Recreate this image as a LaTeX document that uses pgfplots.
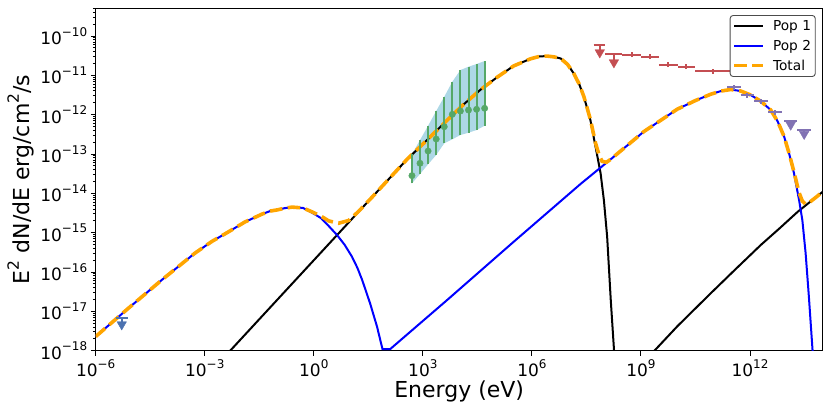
\documentclass[border=0pt]{standalone}
\usepackage{pgfplots}
\pgfplotsset{compat=1.18}
\usepackage{fontspec}
\setmainfont{DejaVu Sans}
\definecolor{sbgreen}{HTML}{55A868}
\definecolor{sbred}{HTML}{C44E52}
\definecolor{sbpurple}{HTML}{8172B3}
\definecolor{sbblue}{HTML}{4C72B0}
\definecolor{bandblue}{HTML}{ADD8E6}
\definecolor{mplorange}{HTML}{FFA500}
\newcommand{\tl}[1]{10\raisebox{0.5em}{\fontsize{12}{12}\selectfont #1}}
\newcommand{\sq}{\raisebox{0.5em}{\fontsize{15.5}{15.5}\selectfont 2}}
\begin{document}
\begin{tikzpicture}
\begin{axis}[
  width=727pt, height=342.4pt, scale only axis,
  xmode=log, ymode=log,
  xmin=1e-6, xmax=1e14, ymin=1e-18, ymax=5.06e-10,
  xtick={1e-6,1e-3,1,1e3,1e6,1e9,1e12},
  xticklabels={\tl{−6},\tl{−3},\tl{0},\tl{3},\tl{6},\tl{9},\tl{12}},
  ytick={1e-18,1e-17,1e-16,1e-15,1e-14,1e-13,1e-12,1e-11,1e-10},
  yticklabels={\tl{−18},\tl{−17},\tl{−16},\tl{−15},\tl{−14},\tl{−13},\tl{−12},\tl{−11},\tl{−10}},
  minor ytick={2e-18,3e-18,4e-18,5e-18,6e-18,7e-18,8e-18,9e-18,
    2e-17,3e-17,4e-17,5e-17,6e-17,7e-17,8e-17,9e-17,
    2e-16,3e-16,4e-16,5e-16,6e-16,7e-16,8e-16,9e-16,
    2e-15,3e-15,4e-15,5e-15,6e-15,7e-15,8e-15,9e-15,
    2e-14,3e-14,4e-14,5e-14,6e-14,7e-14,8e-14,9e-14,
    2e-13,3e-13,4e-13,5e-13,6e-13,7e-13,8e-13,9e-13,
    2e-12,3e-12,4e-12,5e-12,6e-12,7e-12,8e-12,9e-12,
    2e-11,3e-11,4e-11,5e-11,6e-11,7e-11,8e-11,9e-11,
    2e-10,3e-10,4e-10,5e-10},
  xminorticks=false,
  tick align=outside, tick pos=left,
  major tick length=4.9pt, minor tick length=2.8pt,
  every tick/.style={black, line width=1pt},
  axis line style={line width=1.1pt},
  tick label style={font=\fontsize{17}{20}\selectfont},
  label style={font=\fontsize{22}{26}\selectfont},
  xlabel={Energy (eV)},
  ylabel={E\sq\ dN/dE erg/cm\sq/s},
  xlabel style={at={(axis description cs:0.5,-0.1373)}, anchor=base},
  ylabel style={at={(axis description cs:-0.0904,0.5)}, anchor=base},
  unbounded coords=jump,
  legend cell align=left,
  legend style={at={(0.9904,0.9804)}, anchor=north east, draw=black!70,
    line width=0.9pt, rounded corners=3pt, fill=white,
    font=\fontsize{13.7}{16}\selectfont, inner xsep=2.3pt, inner ysep=3pt,
    row sep=4pt, nodes={inner sep=2pt}},
  legend image code/.code={\draw[#1] (0pt,0pt) -- (29pt,0pt); \path (35pt,0pt);},
]
% X-ray band
\addplot[draw=none, fill=bandblue, forget plot] coordinates {
(501.2,9.817e-14)(835.6,2.270e-13)(1393,5.236e-13)(2328,1.239e-12)(3882,2.864e-12)
(6471,6.887e-12)(1.079e4,1.365e-11)(1.803e4,1.656e-11)(3.006e4,1.941e-11)(5.012e4,2.312e-11)
(5.012e4,5.236e-13)(3.006e4,4.074e-13)(1.803e4,3.475e-13)(1.079e4,3.041e-13)(6471,2.366e-13)
(3882,1.871e-13)(2328,9.441e-14)(1393,5.470e-14)(835.6,3.105e-14)(501.2,1.799e-14)} -- cycle;
% Pop 1
\addplot[black, line width=2pt] coordinates {
(3.981e-3,7.943e-19)(1,1.995e-16)(363.1,7.244e-14)(1622,2.754e-13)(4677,7.244e-13)
(1.318e4,1.820e-12)(3.802e4,4.266e-12)(1.096e5,8.913e-12)(3.162e5,1.738e-11)(9.120e5,2.630e-11)
(1.585e6,3.020e-11)(2.630e6,3.090e-11)(3.981e6,2.951e-11)(6.166e6,2.692e-11)(9.550e6,1.905e-11)
(1.413e7,1.122e-11)(1.995e7,6.026e-12)(2.692e7,2.884e-12)(4.074e7,7.244e-13)(5.623e7,1.549e-13)
(7.762e7,3.236e-14)(9.550e7,6.761e-15)(1.175e8,7.943e-16)(1.479e8,1.905e-17)(1.820e8,1e-18)
(1.905e8,5.012e-19)
(nan,nan)
(1.995e9,8.511e-19)(1e10,4.169e-18)(8.318e10,2.884e-17)(3.981e11,1.175e-16)(1.995e12,4.898e-16)
(6.310e12,1.259e-15)(2.042e13,3.388e-15)(1e14,1.096e-14)};
\addlegendentry{Pop 1}
% Pop 2
\addplot[blue, line width=2pt] coordinates {
(1e-6,2.291e-18)(3.162e-6,5.754e-18)(7.943e-6,1.202e-17)(6.607e-5,6.310e-17)(5.370e-4,3.020e-16)
(1.585e-3,6.026e-16)(4.467e-3,1.047e-15)(1.259e-2,1.862e-15)(3.715e-2,2.951e-15)(6.310e-2,3.548e-15)
(0.1,3.802e-15)(0.1585,4.207e-15)(0.2512,4.467e-15)(0.5012,4.266e-15)
(0.8913,3.236e-15)(1.585,2.344e-15)(2.570,1.479e-15)(4.365,8.710e-16)(7.079,4.898e-16)(11.22,2.455e-16)
(15.85,1.274e-16)(21.38,6.310e-17)(35.48,1.585e-17)(54.95,4.074e-18)(77.62,1.096e-18)(125.9,1.096e-18)
(4677,1.950e-17)(3.162e5,5.888e-16)(2.188e7,1.738e-14)(1.445e8,7.244e-14)(1.202e9,3.715e-13)
(1e10,1.380e-12)(3.162e10,2.291e-12)(8.318e10,3.311e-12)(1.585e11,3.981e-12)(2.951e11,4.365e-12)
(5.623e11,3.981e-12)(1.047e12,3.162e-12)(1.995e12,2.188e-12)(3.715e12,1.318e-12)(5.754e12,6.761e-13)
(8.710e12,2.754e-13)(1.202e13,1.0e-13)(1.622e13,3.236e-14)(2.239e13,6.761e-15)(2.754e13,2.089e-15)
(3.388e13,3.020e-16)(4.169e13,2.344e-17)(5.248e13,1.047e-18)(5.623e13,3.981e-19)};
\addlegendentry{Pop 2}
% Total
\addplot[mplorange, line width=3.6pt, dash pattern=on 12.5pt off 5.5pt] coordinates {
(1e-6,2.291e-18)(3.162e-6,5.754e-18)(7.943e-6,1.202e-17)(6.607e-5,6.310e-17)(5.370e-4,3.020e-16)
(1.585e-3,6.026e-16)(4.467e-3,1.047e-15)(1.259e-2,1.862e-15)(3.715e-2,2.951e-15)(6.310e-2,3.548e-15)
(0.1,3.802e-15)(0.1585,4.207e-15)(0.2512,4.467e-15)(0.5012,4.266e-15)
(0.8913,3.388e-15)(1.585,2.630e-15)(2.570,1.995e-15)(4.786,1.738e-15)(9.120,2.042e-15)
(16.98,3.467e-15)(39.81,7.943e-15)(363.1,7.244e-14)(1622,2.754e-13)(4677,7.244e-13)
(1.318e4,1.820e-12)(3.802e4,4.266e-12)(1.096e5,8.913e-12)(3.162e5,1.738e-11)(9.120e5,2.630e-11)
(1.585e6,3.020e-11)(2.630e6,3.090e-11)(3.981e6,2.951e-11)(6.166e6,2.692e-11)(9.550e6,1.905e-11)
(1.413e7,1.122e-11)(1.995e7,6.026e-12)(2.692e7,2.884e-12)(4.074e7,7.5e-13)(5.623e7,1.90e-13)
(7.079e7,9.3e-14)(8.511e7,6.52e-14)(1.122e8,6.16e-14)(1.445e8,7.244e-14)(1.202e9,3.715e-13)
(1e10,1.380e-12)(3.162e10,2.291e-12)(8.318e10,3.311e-12)(1.585e11,3.981e-12)(2.951e11,4.365e-12)
(5.623e11,3.981e-12)(1.047e12,3.162e-12)(1.995e12,2.188e-12)(3.715e12,1.318e-12)(5.754e12,6.761e-13)
(8.710e12,2.754e-13)(1.202e13,1.0e-13)(1.622e13,3.5e-14)(2.239e13,1.04e-14)(2.754e13,6.36e-15)
(3.388e13,5.31e-15)(4.467e13,6.05e-15)(6.310e13,7.76e-15)(1e14,1.096e-14)};
\addlegendentry{Total}
% X-ray points: error bars
\addplot[sbgreen, line width=2pt, forget plot] coordinates {
(501.2,1.799e-14)(501.2,9.817e-14)(nan,nan)
(835.6,3.105e-14)(835.6,2.270e-13)(nan,nan)
(1393,5.470e-14)(1393,5.236e-13)(nan,nan)
(2328,9.441e-14)(2328,1.239e-12)(nan,nan)
(3882,1.871e-13)(3882,2.864e-12)(nan,nan)
(6471,2.366e-13)(6471,6.887e-12)(nan,nan)
(1.079e4,3.041e-13)(1.079e4,1.365e-11)(nan,nan)
(1.803e4,3.475e-13)(1.803e4,1.656e-11)(nan,nan)
(3.006e4,4.074e-13)(3.006e4,1.941e-11)(nan,nan)
(5.012e4,5.236e-13)(5.012e4,2.312e-11)};
\addplot[only marks, mark=*, mark size=3.2pt, mark options={draw=sbgreen, fill=sbgreen}, forget plot] coordinates {
(501.2,2.818e-14)(835.6,5.808e-14)(1393,1.191e-13)(2328,2.404e-13)(3882,4.943e-13)
(6471,1.021e-12)(1.079e4,1.239e-12)(1.803e4,1.312e-12)(3.006e4,1.368e-12)(5.012e4,1.452e-12)};
% gamma-ray points (red): bins, error ticks, upper-limit stems
\addplot[sbred, line width=2pt, forget plot] coordinates {
(5.012e7,6.0e-11)(1.047e8,6.0e-11)(nan,nan)
(1.047e8,3.483e-11)(3.090e8,3.483e-11)(nan,nan)
(3.090e8,3.342e-11)(1e9,3.342e-11)(nan,nan)
(1e9,2.972e-11)(3.090e9,2.972e-11)(nan,nan)
(3.090e9,1.862e-11)(1.047e10,1.862e-11)(nan,nan)
(1.047e10,1.656e-11)(3.162e10,1.656e-11)(nan,nan)
(3.162e10,1.265e-11)(3.162e11,1.265e-11)(nan,nan)
(5.534e8,2.911e-11)(5.534e8,3.837e-11)(nan,nan)
(1.766e9,2.589e-11)(1.766e9,3.412e-11)(nan,nan)
(5.662e9,1.622e-11)(5.662e9,2.138e-11)(nan,nan)
(1.774e10,1.442e-11)(1.774e10,1.901e-11)(nan,nan)
(9.772e10,1.102e-11)(9.772e10,1.452e-11)(nan,nan)
(7.362e7,6.0e-11)(7.362e7,3.811e-11)(nan,nan)
(1.803e8,3.483e-11)(1.803e8,2.123e-11)};
\addplot[only marks, mark=triangle*, mark size=5.5pt, mark options={rotate=180, draw=sbred, fill=sbred}, forget plot] coordinates {
(7.362e7,3.811e-11)(1.803e8,2.123e-11)};
% TeV points (purple)
\addplot[sbpurple, line width=2pt, forget plot] coordinates {
(2.388e11,4.955e-12)(5.559e11,4.955e-12)(nan,nan)
(5.559e11,3.105e-12)(1.288e12,3.105e-12)(nan,nan)
(1.288e12,2.188e-12)(3.214e12,2.188e-12)(nan,nan)
(3.214e12,1.148e-12)(7.816e12,1.148e-12)(nan,nan)
(8.630e12,7.015e-13)(2.018e13,7.015e-13)(nan,nan)
(2.018e13,3.999e-13)(4.699e13,3.999e-13)(nan,nan)
(3.631e11,4.316e-12)(3.631e11,5.688e-12)(nan,nan)
(8.492e11,2.704e-12)(8.492e11,3.565e-12)(nan,nan)
(1.972e12,1.906e-12)(1.972e12,2.512e-12)(nan,nan)
(4.898e12,1.0e-12)(4.898e12,1.318e-12)(nan,nan)
(1.318e13,7.015e-13)(1.318e13,5.534e-13)(nan,nan)
(3.090e13,3.999e-13)(3.090e13,3.214e-13)};
\addplot[only marks, mark=triangle*, mark size=5.5pt, mark options={rotate=180, draw=sbpurple, fill=sbpurple}, forget plot] coordinates {
(1.318e13,5.534e-13)(3.090e13,3.214e-13)};
% radio upper limit (blue)
\addplot[sbblue, line width=2pt, forget plot] coordinates {
(3.548e-6,6.668e-18)(7.586e-6,6.668e-18)(nan,nan)
(5.200e-6,6.668e-18)(5.200e-6,4.645e-18)};
\addplot[only marks, mark=triangle*, mark size=5.5pt, mark options={rotate=180, draw=sbblue, fill=sbblue}, forget plot] coordinates {
(5.200e-6,4.645e-18)};
\end{axis}
\pgfresetboundingbox
\path ([shift={(-95.7pt,-60.3pt)}]current axis.south west) rectangle ([shift={(8.3pt,8.3pt)}]current axis.north east);
\end{tikzpicture}
\end{document}
